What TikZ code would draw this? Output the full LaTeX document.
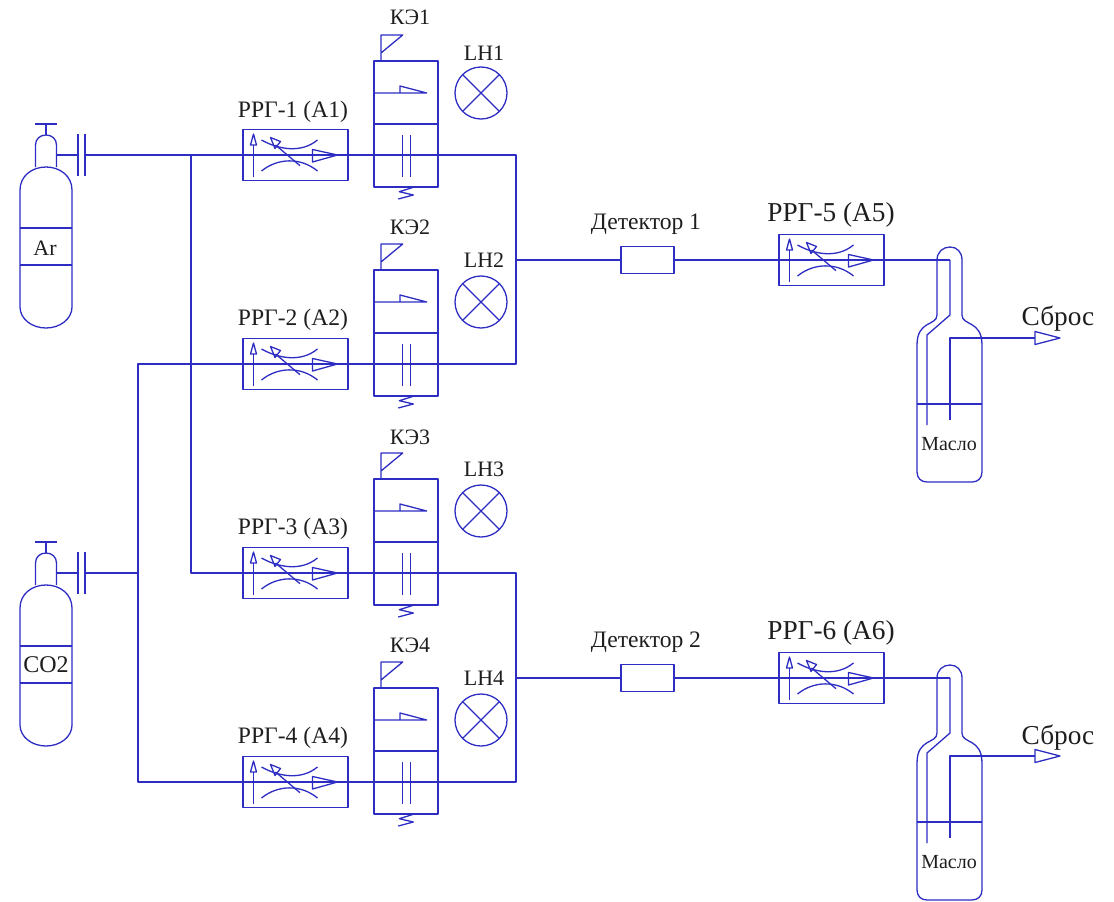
\documentclass[tikz,border=0pt]{standalone}
\usepackage{fontspec}
\setmainfont{Liberation Serif}
\usetikzlibrary{calc}
\definecolor{schem}{RGB}{45,45,195}
\definecolor{inkc}{RGB}{30,30,30}
\tikzset{
  wire/.style={draw=schem,line width=1.3pt,line join=round},
  rrgbox/.style={rectangle,wire,minimum width=105pt,minimum height=51pt,inner sep=0pt,outer sep=0pt},
  kebox/.style={rectangle,wire,minimum width=64pt,minimum height=126pt,inner sep=0pt,outer sep=0pt},
  detbox/.style={rectangle,wire,minimum width=53pt,minimum height=27pt,inner sep=0pt,outer sep=0pt},
  lampc/.style={circle,wire,minimum size=52pt,inner sep=0pt,outer sep=0pt},
  lbl/.style={text=inkc,font=\fontsize{22}{24}\selectfont,inner sep=0pt},
  lblmid/.style={text=inkc,font=\fontsize{23.6}{26}\selectfont,inner sep=0pt},
  lblbig/.style={text=inkc,font=\fontsize{27.3}{29}\selectfont,inner sep=0pt},
  lblsmall/.style={text=inkc,font=\fontsize{20}{22}\selectfont,inner sep=0pt},
  rrgsym/.pic={
    \draw[wire] (-42,22) -- (-42,-10);
    \draw[wire] (-45,-10) -- (-42,-21) -- (-39,-10) -- cycle;
    \draw[wire] (-34,-15) .. controls (-18,-6) and (5,-1) .. (22,-15);
    \draw[wire] (-34,16) .. controls (-18,3) and (5,2) .. (22,16);
    \draw[wire] (4.5,10.7) -- (-20,-10);
    \draw[wire] (-25,-17.5) -- (-15,-13.5) -- (-20.5,-6.5) -- cycle;
    \draw[wire] (17,-5.5) -- (42,0) -- (17,7) -- cycle;
  },
  kesym/.pic={
    \draw[wire] (-32,0) -- (32,0);
    \draw[wire] (-32,-31) -- (20.7,-31) -- (-6,-38) -- (-6,-31);
    \draw[wire] (-25,-63) -- (-25,-89) -- (-3.3,-89) -- (-25,-71);
    \draw[wire] (-3.7,11) -- (-3.7,53);
    \draw[wire] (4.3,11) -- (4.3,53);
    \draw[wire] (7.3,63.3) -- (-6.7,67.7) -- (7.3,71) -- (-7.7,75);
  },
  lampsym/.pic={
    \draw[wire] (-18.4,-18.4) -- (18.4,18.4);
    \draw[wire] (-18.4,18.4) -- (18.4,-18.4);
  },
  flangesym/.pic={
    \draw[wire] (0,-21) -- (0,21);
    \draw[wire] (7,-21) -- (7,21);
  },
  balloonsym/.pic={
    \draw[wire] (-11,-31) -- (11,-31);
    \draw[wire] (0,-31) -- (0,-20);
    \draw[wire] (-10.5,12) -- (-10.5,-10) .. controls (-10.5,-16) and (-6,-20) .. (0,-20)
      .. controls (6,-20) and (10.5,-16) .. (10.5,-10) -- (10.5,12);
    \draw[wire] (-26,35) .. controls (-26,21) and (-14,12) .. (0,12)
      .. controls (14,12) and (26,21) .. (26,35) -- (26,152)
      .. controls (26,164) and (14,173) .. (0,173)
      .. controls (-14,173) and (-26,164) .. (-26,152) -- cycle;
    \draw[wire] (-26,73) -- (26,73);
    \draw[wire] (-26,110) -- (26,110);
  },
  bubblersym/.pic={
    \draw[wire] (-13,55) -- (-13,0) .. controls (-13,-8) and (-7,-13) .. (0,-13)
      .. controls (7,-13) and (12,-8) .. (12,0) -- (12,55)
      .. controls (12,66) and (32,60) .. (32,85) -- (32,212)
      .. controls (32,218) and (28,222) .. (22,222) -- (-23,222)
      .. controls (-29,222) and (-33,218) .. (-33,212) -- (-33,85)
      .. controls (-33,60) and (-13,66) .. (-13,55) -- cycle;
    \draw[wire] (0,0) -- (0,55) -- (-23,75) -- (-23,165);
    \draw[wire] (0,160) -- (0,78) -- (85,78);
    \draw[wire] (85,71.5) -- (110,78) -- (85,84.5) -- cycle;
    \draw[wire] (-33,144) -- (32,144);
  }
}
\begin{document}
\begin{tikzpicture}[x=1pt,y=-1pt]
    \useasboundingbox (0,0) rectangle (1114,902);
    % balloons
    \pic at (46,155) {balloonsym};
    \pic at (46,573) {balloonsym};
    \node[lbl] (ar) at (45,248) {Ar};
    \node[lbl,font=\fontsize{24}{26}\selectfont] (co) at (46,665) {CO2};
    \coordinate (n1) at (56.5,155);
    \coordinate (n2) at (56.5,573);
    \coordinate (f1) at (78,155);
    \coordinate (f2) at (78,573);
    \coordinate (g1) at (85,155);
    \coordinate (g2) at (85,573);
    \pic at (f1) {flangesym};
    \pic at (f2) {flangesym};
    % junctions
    \coordinate (j1) at (191,155);
    \coordinate (j2) at (191,573);
    \coordinate (j3) at (138,364);
    \coordinate (j4) at (138,573);
    \coordinate (j5) at (138,782);
    \coordinate (t1) at (516,155);
    \coordinate (t2) at (516,260);
    \coordinate (t3) at (516,364);
    \coordinate (t4) at (516,573);
    \coordinate (t5) at (516,678);
    \coordinate (t6) at (516,782);
    % regulators
    \node[rrgbox] (r1) at (295.5,155) {};
    \node[rrgbox] (r2) at (295.5,364) {};
    \node[rrgbox] (r3) at (295.5,573) {};
    \node[rrgbox] (r4) at (295.5,782) {};
    \node[rrgbox] (r5) at (831.5,260) {};
    \node[rrgbox] (r6) at (831.5,678) {};
    \pic at (r1) {rrgsym};
    \pic at (r2) {rrgsym};
    \pic at (r3) {rrgsym};
    \pic at (r4) {rrgsym};
    \pic at (r5) {rrgsym};
    \pic at (r6) {rrgsym};
    \node[lblmid] (a1) at (293,112) {РРГ-1 (А1)};
    \node[lblmid] (a2) at (293,320) {РРГ-2 (А2)};
    \node[lblmid] (a3) at (293,529) {РРГ-3 (А3)};
    \node[lblmid] (a4) at (293,738) {РРГ-4 (А4)};
    \node[lblbig] (a5) at (831,215) {РРГ-5 (А5)};
    \node[lblbig] (a6) at (831,633) {РРГ-6 (А6)};
    % valves
    \node[kebox] (k1) at (406,124) {};
    \node[kebox] (k2) at (406,333) {};
    \node[kebox] (k3) at (406,542) {};
    \node[kebox] (k4) at (406,751) {};
    \pic at (k1) {kesym};
    \pic at (k2) {kesym};
    \pic at (k3) {kesym};
    \pic at (k4) {kesym};
    \node[lbl] (e1) at (410,17) {КЭ1};
    \node[lbl] (e2) at (410,227) {КЭ2};
    \node[lbl] (e3) at (410,437) {КЭ3};
    \node[lbl] (e4) at (410,645) {КЭ4};
    % lamps
    \node[lampc] (l1) at (481,93) {};
    \node[lampc] (l2) at (481,302) {};
    \node[lampc] (l3) at (481,511) {};
    \node[lampc] (l4) at (481,720) {};
    \pic at (l1) {lampsym};
    \pic at (l2) {lampsym};
    \pic at (l3) {lampsym};
    \pic at (l4) {lampsym};
    \node[lbl] (h1) at (484,53) {LH1};
    \node[lbl] (h2) at (484,260) {LH2};
    \node[lbl] (h3) at (484,469) {LH3};
    \node[lbl] (h4) at (484,678) {LH4};
    % detectors
    \node[detbox] (d1) at (647.5,260) {};
    \node[detbox] (d2) at (647.5,678) {};
    \node[lblmid] (c1) at (646,224) {Детектор 1};
    \node[lblmid] (c2) at (646,642) {Детектор 2};
    % bubblers
    \coordinate (b1) at (950,260);
    \coordinate (b2) at (950,678);
    \pic at (b1) {bubblersym};
    \pic at (b2) {bubblersym};
    \node[lblsmall] (m1) at (949,444) {Масло};
    \node[lblsmall] (m2) at (949,862) {Масло};
    \node[lblbig] (s1) at (1058,319) {Сброс};
    \node[lblbig] (s2) at (1058,738) {Сброс};
    % pipes
    \draw[wire] (n1) -- (f1);
    \draw[wire] (n2) -- (f2);
    \draw[wire] (g1) -- (j1) -- (r1.center) -- (t1) -- (t3) -- (r2.center) -- (j3) -- (j5) -- (r4.center) -- (t6) -- (t4) -- (r3.center) -- (j2) -- (j1);
    \draw[wire] (g2) -- (j4);
    \draw[wire] (t2) -- (d1);
    \draw[wire] (t5) -- (d2);
    \draw[wire] (d1) -- (r5.center) -- (b1);
    \draw[wire] (d2) -- (r6.center) -- (b2);
  \end{tikzpicture}
\end{document}
